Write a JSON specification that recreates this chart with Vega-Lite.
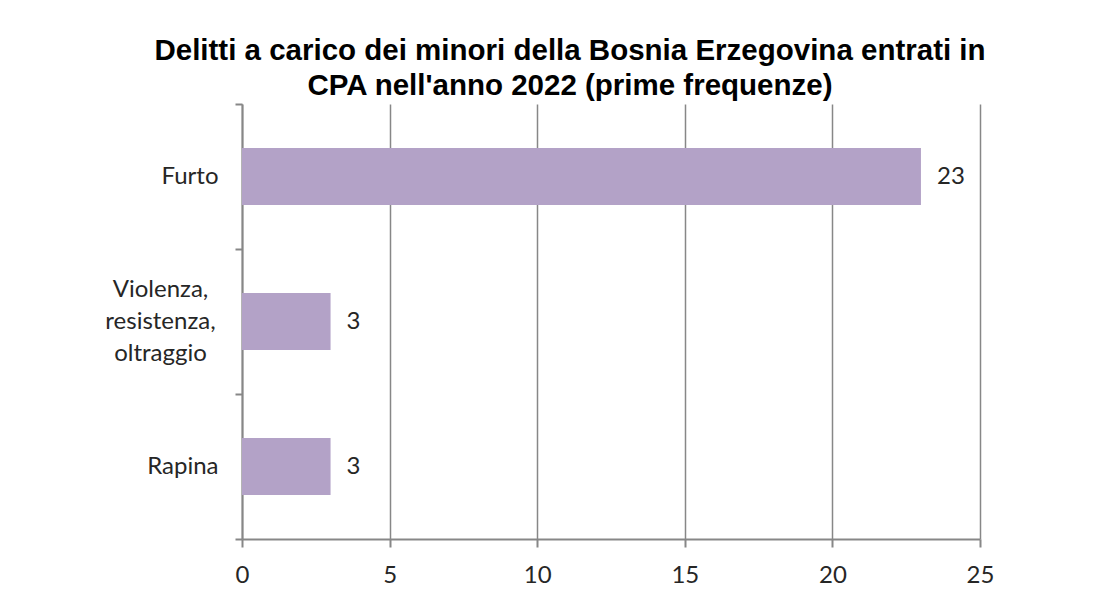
{
  "$schema": "https://vega.github.io/schema/vega-lite/v6.json",
  "width": 738,
  "height": 435,
  "autosize": {"type": "none"},
  "padding": {"left": 242, "top": 104, "right": 140, "bottom": 57},
  "background": "white",
  "title": {
    "text": ["Delitti a carico dei minori della Bosnia Erzegovina  entrati in", "CPA nell'anno 2022 (prime  frequenze)"],
    "font": "Liberation Sans",
    "fontSize": 29.5,
    "fontWeight": "bold",
    "color": "#000000",
    "lineHeight": 35,
    "anchor": "middle",
    "frame": "group",
    "dx": -41,
    "offset": -9
  },
  "data": {
    "values": [
      {"delitto": "Furto", "n": 23, "ord": 1},
      {"delitto": "Violenza, resistenza, oltraggio", "n": 3, "ord": 2},
      {"delitto": "Rapina", "n": 3, "ord": 3}
    ]
  },
  "encoding": {
    "y": {
      "field": "delitto",
      "type": "nominal",
      "sort": {"field": "ord", "order": "ascending"},
      "scale": {"paddingInner": 0, "paddingOuter": 0},
      "axis": {
        "title": null,
        "tickBand": "extent",
        "grid": false,
        "domainColor": "#878787",
        "domainWidth": 2,
        "tickColor": "#878787",
        "tickWidth": 2,
        "tickSize": 7,
        "labelFont": "Lato",
        "labelFontSize": 24,
        "labelColor": "#262626",
        "labelPadding": {"condition": {"test": "datum.value == 'Violenza, resistenza, oltraggio'", "value": 75}, "value": 17},
        "labelAlign": {"condition": {"test": "datum.value == 'Violenza, resistenza, oltraggio'", "value": "center"}, "value": "right"},
        "labelOffset": {"condition": {"test": "datum.value == 'Violenza, resistenza, oltraggio'", "value": -32}, "value": 0},
        "labelLineHeight": 32,
        "labelLimit": 300,
        "labelExpr": "datum.label == 'Violenza, resistenza, oltraggio' ? ['Violenza,', 'resistenza,', 'oltraggio'] : datum.label"
      }
    },
    "x": {
      "field": "n",
      "type": "quantitative",
      "scale": {"domain": [0, 25], "nice": false},
      "axis": {
        "title": null,
        "values": [0, 5, 10, 15, 20, 25],
        "grid": true,
        "gridColor": "#878787",
        "gridWidth": 1.5,
        "domainColor": "#878787",
        "domainWidth": 2,
        "tickColor": "#878787",
        "tickWidth": 2,
        "tickSize": 8,
        "labelFont": "Lato",
        "labelFontSize": 24,
        "labelColor": "#262626",
        "labelPadding": 16,
        "labelFlush": false
      }
    }
  },
  "layer": [
    {
      "mark": {"type": "bar", "color": "#b3a2c7", "height": {"band": 0.393}}
    },
    {
      "mark": {"type": "text", "align": "left", "dx": 16, "font": "Lato", "fontSize": 24, "color": "#262626"},
      "encoding": {"text": {"field": "n", "type": "quantitative"}}
    }
  ],
  "config": {
    "view": {"stroke": null}
  }
}
